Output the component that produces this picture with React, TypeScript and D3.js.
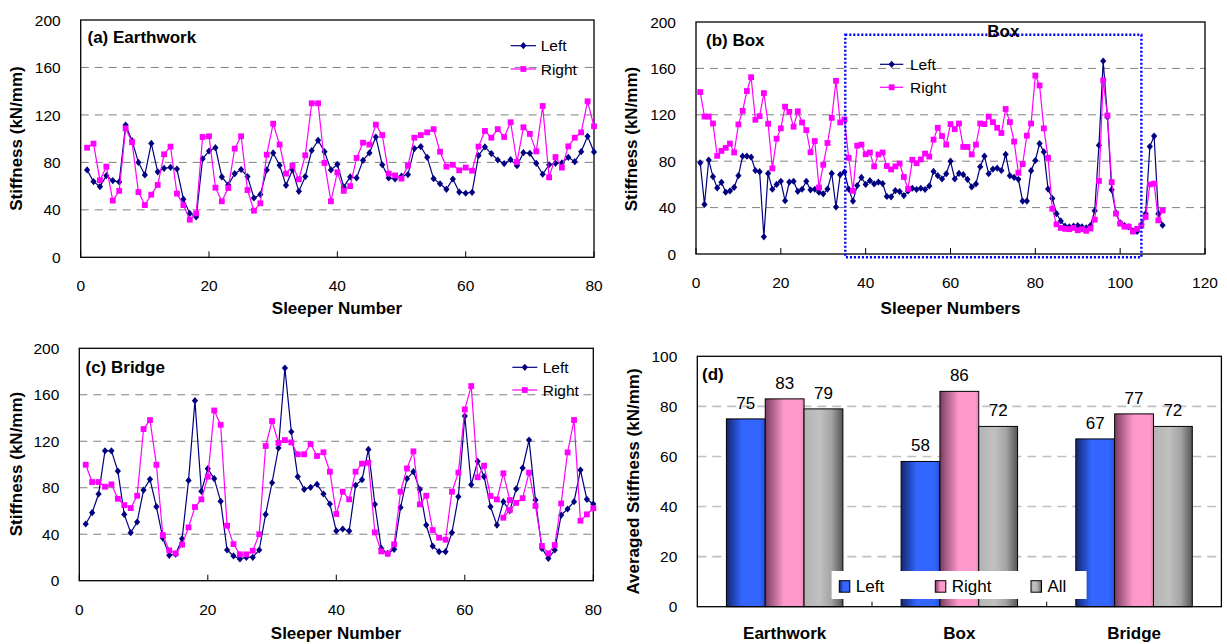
import React from "react";
import * as d3 from "d3";

// ---- data ----
const earthLeft = [73.6, 63.8, 59.6, 68.8, 64.6, 63.5, 111.5, 98.3, 80, 69.4, 96, 72, 75, 75.8, 74.4, 49, 37, 34, 83, 89.6,
  92.4, 67.7, 61, 70.5, 74, 68, 50, 53, 73.6, 88, 77.5, 60.7, 73.6, 55.6, 68, 90, 98.6, 89, 73.6, 78.4,
  59.3, 67.7, 66.9, 81.7, 88, 101.4, 78, 66.9, 66, 68.5, 69.7, 91.6, 93.3, 84.3, 66.3, 62, 57.3, 66, 55, 54,
  54.8, 85.7, 93, 87.4, 82, 79, 82.3, 77.2, 88.2, 87.6, 79.2, 70, 78, 79.2, 79.5, 84.3, 80.6, 89, 102, 88.8];
const earthRight = [92.4, 95.8, 65, 76.4, 47.8, 56, 108.7, 97, 55, 44, 52.8, 61, 86.8, 93.3, 53.7, 44, 31.7, 37, 101.4, 102,
  58.7, 47.2, 58.4, 91.6, 102, 56.7, 39.3, 45.5, 86.5, 112.6, 95, 70.5, 77.2, 65.7, 86, 129.8, 129.8, 79.5, 47.2, 71.6,
  56, 60, 83.7, 96.6, 95, 111.8, 103, 70.5, 69, 66.3, 77.2, 100.8, 103, 105.3, 108, 89, 76.4, 78, 73.3, 75.6,
  73, 93.3, 106.5, 100.8, 108, 101.4, 113.8, 80.3, 109.6, 104, 89.3, 127.5, 67.4, 84.5, 75.6, 93.5, 100.8, 105.3, 131.5, 110.4];

const boxLeft = [78.6, 42.7, 81, 66.7, 57, 61.8, 53.3, 54.4, 57.5, 67.5, 84.3, 84.3, 83.5, 72, 71, 14.8, 69.5, 55.8, 60, 62.7,
  45.9, 62, 62.7, 54, 55.8, 62.7, 55.3, 55.8, 53.3, 51.9, 56, 69.5, 40.5, 68.4, 70.7, 56, 45.6, 59, 66, 60,
  63.2, 60.4, 62, 60.7, 49.6, 49.3, 54.7, 53.8, 50.4, 54.4, 56.7, 55.6, 56.7, 55.6, 58.7, 71.2, 67.5, 64.7, 69.2, 80,
  64.7, 69.5, 68.4, 64.4, 57.8, 60.4, 75.2, 84.3, 69.2, 73.2, 74, 72, 85.8, 67.5, 66, 64.4, 45.6, 45.6, 71.8, 80.6,
  95.2, 88, 56, 47.9, 34.8, 28.5, 24, 23.4, 24, 24.5, 23.4, 22.5, 24.5, 37.3, 93.7, 166.4, 118, 55.3, 35.6, 26.8,
  24.5, 23.4, 20, 19.4, 25.4, 34.8, 92.6, 101.7, 34.8, 24.8];
const boxRight = [139.6, 118.5, 118.5, 112.5, 84.6, 88.9, 91.5, 95.2, 87.5, 111.7, 123.4, 140.5, 152.4, 115.7, 118.8, 138.7, 112.3, 73.8, 99.4, 108.3,
  127, 122.5, 109.7, 123, 113.4, 106.8, 87.7, 97.4, 57.3, 76.9, 95.7, 117.4, 149.3, 113.4, 116, 82.9, 54.4, 93.4, 94.3, 86,
  87.5, 75.5, 85.8, 87.5, 75.8, 72.9, 75.5, 78, 66.4, 56.1, 81.2, 78.3, 81.5, 86.6, 84, 98.6, 108.8, 101.7, 94.3, 112,
  107.7, 112.5, 92.3, 92.3, 85.8, 94.3, 112.5, 112, 118.5, 113.7, 108.8, 104.3, 125, 113.7, 96.9, 70, 77.5, 102, 112.5, 153.8,
  145.3, 108.3, 82.9, 39, 25.6, 22.5, 21.7, 21.4, 22.5, 20.5, 21.4, 20, 22, 29.6, 63, 149.6, 119.4, 62, 34.8, 26.2,
  23.6, 23.6, 19.4, 21.7, 24.5, 31.9, 60, 60.7, 29, 37.6];

const bridgeLeft = [48.8, 58.5, 74.6, 111.8, 111.8, 94.3, 57, 41.3, 50.5, 78, 87.2, 63.7, 36.7, 21.8, 22.9, 36.1, 86.3, 154.9, 76.9, 96.4,
  87.8, 68.3, 26.4, 21.3, 18.7, 20.1, 20.1, 26.4, 57, 84.3, 114.2, 183, 128.2, 89.5, 78.6, 80.4, 83, 74.6, 66, 42.8,
  44.5, 42.8, 82.1, 86.9, 113, 65.7, 27.8, 23.5, 27, 63, 87.8, 93.8, 78.6, 47.9, 29.8, 25, 25, 41.3, 72.3, 141.7,
  82.6, 102.7, 89.5, 63.7, 47.9, 68, 60.2, 79, 97, 121, 69.4, 27.8, 19.2, 26.4, 56.5, 61.7, 68, 95.2, 70, 66];
// the Right series of the bridge repeats sleepers 66 and 67 in the original plot
const bridgeRightSleepers = [...d3.range(1, 68), 66, 67, ...d3.range(68, 81)];
const bridgeRight = [99.8, 84.9, 84.9, 80.9, 82.9, 70.5, 65.1, 62.5, 73.1, 130.5, 138.2, 99.8, 39.3, 26.1, 23.5, 31, 45.9, 63.4, 70, 89.5,
  146.5, 134.2, 47.3, 31.5, 22.7, 22.7, 25.8, 40, 115.9, 137.4, 118.5, 121, 119, 108.8, 108.8, 117.6, 107.3, 110.5, 93.8, 57.4,
  76.6, 70, 93.8, 100.7, 101.5, 41.6, 25.2, 23.2, 31.3, 76.6, 96.6, 111.3, 65.7, 73.1, 43.6, 37, 35.3, 76.6, 93, 147.4,
  167.5, 89, 99, 72.9, 70, 92.4, 69.4, 54.2, 60.8, 67, 71, 93, 64.3, 29.9, 23.5, 30.7, 66.5, 110.4, 138.3, 51.6, 57.1, 62.3];

const stiffTicks = [0, 40, 80, 120, 160, 200];
const sleeperTicks80 = [0, 20, 40, 60, 80];
const sleeperTicks120 = [0, 20, 40, 60, 80, 100, 120];
const boxRegion = { x0: 35.2, x1: 105, y0: -2.8, y1: 189 };

const sections = ["Earthwork", "Box", "Bridge"];
const sides = ["Left", "Right", "All"];
const avgLeft = [75, 58, 67];
const avgRight = [83, 86, 77];
const avgAll = [79, 72, 72];
const avgTicks = [0, 20, 40, 60, 80, 100];

const FONT = "'Liberation Sans', Arial, Helvetica, sans-serif";
const NAVY = "#000080";
const MAGENTA = "#FF00FF";

const seq = (n: number) => d3.range(1, n + 1);

function Marker({ kind, x, y }: { kind: string; x: number; y: number }) {
  if (kind === "diamond") {
    return <path d={`M${x},${y - 3.6}L${x + 3.1},${y}L${x},${y + 3.6}L${x - 3.1},${y}Z`} fill={NAVY} />;
  }
  return <rect x={x - 2.9} y={y - 2.9} width={5.8} height={5.8} fill={MAGENTA} />;
}

type Series = { name: string; color: string; marker: string; xs: number[]; ys: number[] };

function LinePanel(props: any) {
  const { frame, xMax, xTicks, title, titleAt, legend, xLabel, xLabelAt, yLabelAt, series, box } = props;
  const x = d3.scaleLinear().domain([0, xMax]).range([frame.left, frame.right]);
  const y = d3.scaleLinear().domain([0, 200]).range([frame.bottom, frame.top]);

  return (
    <g>
      {stiffTicks.slice(1, -1).map((t) => (
        <line key={t} x1={frame.left} x2={frame.right} y1={y(t)} y2={y(t)} stroke="#808080" strokeWidth={1} strokeDasharray="8,6" />
      ))}
      <rect x={frame.left} y={frame.top} width={frame.right - frame.left} height={frame.bottom - frame.top} fill="none" stroke="#000" strokeWidth={1.3} />
      {xTicks.map((t: number) => (
        <g key={t}>
          <line x1={x(t)} x2={x(t)} y1={frame.bottom} y2={frame.bottom - 6} stroke="#000" strokeWidth={1} />
          <text x={x(t)} y={frame.bottom + 34} textAnchor="middle" fontSize={15.5} fontFamily={FONT}>{t}</text>
        </g>
      ))}
      {stiffTicks.map((t) => (
        <text key={t} x={frame.left - 20} y={y(t)} dy="0.36em" textAnchor="end" fontSize={15.5} fontFamily={FONT}>{t}</text>
      ))}
      {series.map((s: Series) => {
        const line = d3.line<number>().x((_, i) => x(s.xs[i])).y((d) => y(d));
        return (
          <g key={s.name}>
            <path d={line(s.ys) || ""} fill="none" stroke={s.color} strokeWidth={1.2} />
            {s.ys.map((v, i) => <Marker key={i} kind={s.marker} x={x(s.xs[i])} y={y(v)} />)}
          </g>
        );
      })}
      {box && (
        <g>
          <rect x={x(box.x0)} y={y(box.y1)} width={x(box.x1) - x(box.x0)} height={y(box.y0) - y(box.y1)} fill="none" stroke="#0000FF" strokeWidth={2.4} strokeDasharray="2,2" />
          <text x={(x(box.x0) + x(box.x1)) / 2 + 10} y={frame.top + 15} textAnchor="middle" fontSize={17} fontWeight="bold" fontFamily={FONT}>Box</text>
        </g>
      )}
      <text x={titleAt[0]} y={titleAt[1]} fontSize={17} fontWeight="bold" fontFamily={FONT}>{title}</text>
      {series.map((s: Series, i: number) => {
        const ly = legend.y[i];
        return (
          <g key={s.name}>
            <line x1={legend.x0} x2={legend.x1} y1={ly} y2={ly} stroke={s.color} strokeWidth={1.2} />
            <Marker kind={s.marker} x={(legend.x0 + legend.x1) / 2} y={ly} />
            <text x={legend.tx} y={ly} dy="0.36em" fontSize={15.5} fontFamily={FONT}>{s.name}</text>
          </g>
        );
      })}
      <text x={xLabelAt[0]} y={xLabelAt[1]} textAnchor="middle" fontSize={17} fontWeight="bold" fontFamily={FONT}>{xLabel}</text>
      <text transform={`translate(${yLabelAt[0]},${yLabelAt[1]}) rotate(-90)`} textAnchor="middle" dy="0.36em" fontSize={17} fontWeight="bold" fontFamily={FONT}>Stiffness (kN/mm)</text>
    </g>
  );
}

const barFills: Record<string, string[][]> = {
  Left: [["0%", "#15266f"], ["40%", "#3366ff"], ["85%", "#3366ff"], ["100%", "#2850d6"]],
  Right: [["0%", "#7a3d60"], ["48%", "#ff99cc"], ["90%", "#ff99cc"], ["100%", "#e388b4"]],
  All: [["0%", "#b4b4b4"], ["40%", "#c0c0c0"], ["70%", "#a4a4a4"], ["100%", "#555555"]],
};

function BarPanel() {
  const frame = { left: 697.3, right: 1221.4, top: 356.3, bottom: 606.7 };
  const x0 = d3.scaleBand().domain(sections).range([frame.left, frame.right]).paddingInner(1 / 3).paddingOuter(1 / 6);
  const x1 = d3.scaleBand().domain(sides).range([0, x0.bandwidth()]);
  const y = d3.scaleLinear().domain([0, 100]).range([frame.bottom, frame.top]);
  const values: Record<string, number[]> = { Left: avgLeft, Right: avgRight, All: avgAll };
  const step = x0.step();
  const legendX = [839.3, 935.3, 1031];

  return (
    <g>
      <defs>
        {sides.map((s) => (
          <linearGradient key={s} id={`fill-${s}`} x1="0" x2="1" y1="0" y2="0">
            {barFills[s].map(([o, c]) => <stop key={o} offset={o} stopColor={c} />)}
          </linearGradient>
        ))}
      </defs>
      {avgTicks.slice(1, -1).map((t) => (
        <line key={t} x1={frame.left} x2={frame.right} y1={y(t)} y2={y(t)} stroke="#c0c0c0" strokeWidth={1.6} strokeDasharray="9,6" />
      ))}
      {sections.map((sec, ci) => (
        <g key={sec}>
          {sides.map((s) => {
            const v = values[s][ci];
            const bx = (x0(sec) || 0) + (x1(s) || 0);
            return (
              <g key={s}>
                <rect x={bx} y={y(v)} width={x1.bandwidth()} height={y(0) - y(v)} fill={`url(#fill-${s})`} stroke="#000" strokeWidth={1} />
                <text x={bx + x1.bandwidth() / 2} y={y(v) - 10} textAnchor="middle" fontSize={17} fontFamily={FONT}>{d3.format(".0f")(v)}</text>
              </g>
            );
          })}
          <text x={(x0(sec) || 0) + x0.bandwidth() / 2} y={frame.bottom + 32} textAnchor="middle" fontSize={17} fontWeight="bold" fontFamily={FONT}>{sec}</text>
        </g>
      ))}
      {[1, 2].map((k) => (
        <line key={k} x1={frame.left + k * step} x2={frame.left + k * step} y1={frame.bottom} y2={frame.bottom - 5} stroke="#000" strokeWidth={1} />
      ))}
      <rect x={frame.left} y={frame.top} width={frame.right - frame.left} height={frame.bottom - frame.top} fill="none" stroke="#000" strokeWidth={1.3} />
      {avgTicks.map((t) => (
        <text key={t} x={frame.left - 20} y={y(t)} dy="0.36em" textAnchor="end" fontSize={15.5} fontFamily={FONT}>{t}</text>
      ))}
      <text x={702} y={380} fontSize={17} fontWeight="bold" fontFamily={FONT}>(d)</text>
      <rect x={831.6} y={571} width={255} height={28} fill="#fff" />
      {sides.map((s, i) => (
        <g key={s}>
          <rect x={legendX[i]} y={580.7} width={10.5} height={11.5} fill={`url(#fill-${s})`} stroke="#000" strokeWidth={1} />
          <text x={legendX[i] + 16.5} y={592} fontSize={17} fontFamily={FONT}>{s}</text>
        </g>
      ))}
      <text transform="translate(633,481.5) rotate(-90)" textAnchor="middle" dy="0.36em" fontSize={17} fontWeight="bold" fontFamily={FONT}>Averaged Stiffness (kN/mm)</text>
    </g>
  );
}

export default function App() {
  const left = (xs: number[], ys: number[]): Series => ({ name: "Left", color: NAVY, marker: "diamond", xs, ys });
  const right = (xs: number[], ys: number[]): Series => ({ name: "Right", color: MAGENTA, marker: "square", xs, ys });
  return (
    <svg width={1227} height={644} style={{ position: "absolute", left: 0, top: 0, background: "#fff" }}>
      <rect width={1227} height={644} fill="#fff" />
      <LinePanel
        frame={{ left: 80.7, right: 594, top: 20, bottom: 257.3 }}
        xMax={80} xTicks={sleeperTicks80}
        title="(a) Earthwork" titleAt={[87.5, 43]}
        legend={{ x0: 510.7, x1: 536, y: [45.7, 69], tx: 540.7 }}
        xLabel="Sleeper Number" xLabelAt={[337, 314]} yLabelAt={[16, 138.5]}
        series={[left(seq(80), earthLeft), right(seq(80), earthRight)]}
      />
      <LinePanel
        frame={{ left: 696, right: 1205, top: 22, bottom: 254 }}
        xMax={120} xTicks={sleeperTicks120}
        title="(b) Box" titleAt={[706, 46]}
        legend={{ x0: 880, x1: 903.3, y: [64.3, 87.3], tx: 910 }}
        xLabel="Sleeper Numbers" xLabelAt={[950.5, 314]} yLabelAt={[631, 139]}
        series={[left(seq(110), boxLeft), right(seq(110), boxRight)]}
        box={boxRegion}
      />
      <LinePanel
        frame={{ left: 79.3, right: 593.3, top: 348.3, bottom: 580.7 }}
        xMax={80} xTicks={sleeperTicks80}
        title="(c) Bridge" titleAt={[85.5, 372.5]}
        legend={{ x0: 512.3, x1: 537.3, y: [367.3, 390], tx: 542.7 }}
        xLabel="Sleeper Number" xLabelAt={[336, 638.5]} yLabelAt={[16, 464]}
        series={[left(seq(80), bridgeLeft), right(bridgeRightSleepers, bridgeRight)]}
      />
      <BarPanel />
    </svg>
  );
}
